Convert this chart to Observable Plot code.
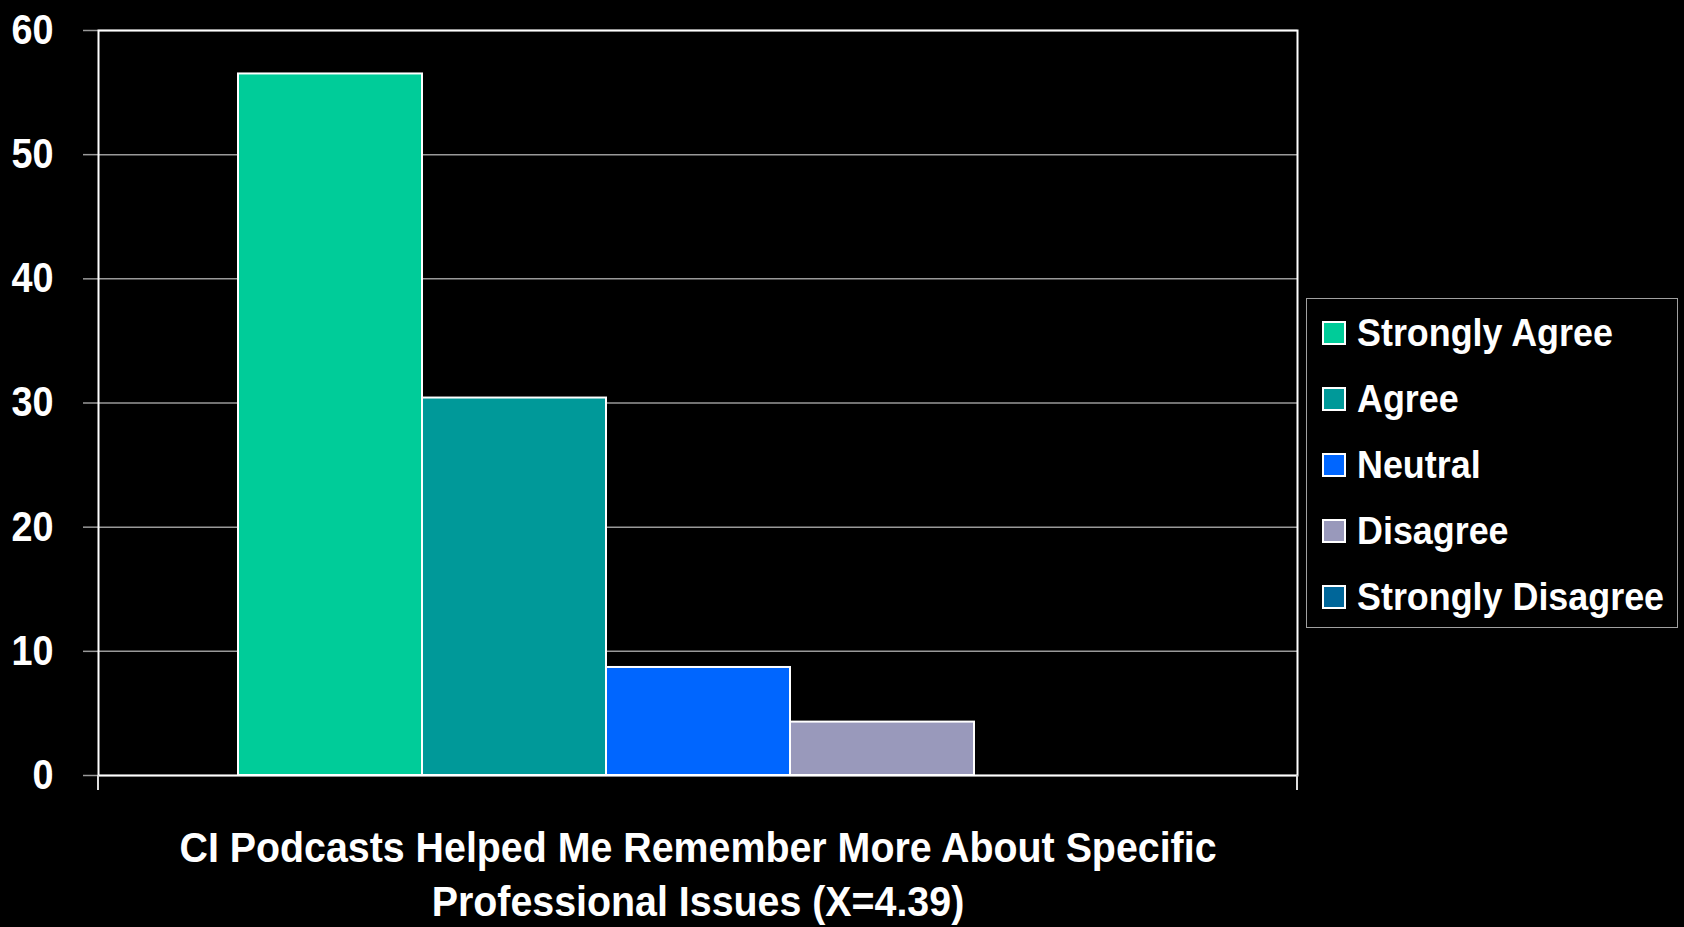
<!DOCTYPE html>
<html>
<head>
<meta charset="utf-8">
<script src="https://cdn.jsdelivr.net/npm/d3@7"></script>
<script src="https://cdn.jsdelivr.net/npm/@observablehq/plot@0.6"></script>
<style>
html, body { margin: 0; padding: 0; background: #000; width: 1684px; height: 927px; overflow: hidden; font-family: "Liberation Sans", Arial, sans-serif; }
#wrap { position: relative; width: 1684px; height: 927px; }
#chart { position: absolute; left: 0; top: 0; }
#legend { position: absolute; left: 1306px; top: 298px; width: 372px; height: 330px; border: 1.5px solid #a0a0a0; box-sizing: border-box; }
.row { position: absolute; left: 15px; height: 40px; display: flex; align-items: center; }
.sw { width: 24px; height: 24px; border: 2px solid #fff; box-sizing: border-box; flex: none; }
.lab { color: #fff; font-weight: bold; font-size: 39px; transform: scaleX(0.92); transform-origin: left center; margin-left: 11px; white-space: nowrap; line-height: 40px; }
#caption { position: absolute; left: 0; top: 820px; width: 1396px; text-align: center; color: #fff; font-weight: bold; font-size: 43px; line-height: 54px; transform: scaleX(0.915); transform-origin: 698px 0; white-space: nowrap; }
</style>
</head>
<body>
<div id="wrap">
  <div id="chart"></div>
  <div id="legend"></div>
  <div id="caption"></div>
</div>
<script>
const categories = ["Strongly Agree", "Agree", "Neutral", "Disagree", "Strongly Disagree"];
const percents = [56.5, 30.4, 8.7, 4.3, 0];
const colors = ["#00cc99", "#009999", "#0066ff", "#9999bb", "#006699"];
const yTicks = [0, 10, 20, 30, 40, 50, 60];
const captionLines = ["CI Podcasts Helped Me Remember More About Specific", "Professional Issues (X=4.39)"];

const data = categories.map((c, i) => ({category: c, value: percents[i]}));

const chart = Plot.plot({
  width: 1684,
  height: 800,
  marginTop: 30,
  marginBottom: 25,
  marginLeft: 98,
  marginRight: 387,
  style: {background: "#000", color: "#fff", fontFamily: "Liberation Sans, Arial, sans-serif", fontSize: "42px", fontWeight: "bold"},
  x: {domain: categories, paddingInner: 0, paddingOuter: 0.755, axis: null},
  y: {domain: [0, 60], ticks: yTicks, label: null},
  color: {domain: categories, range: colors},
  marks: [
    Plot.gridY(yTicks, {stroke: "#999", strokeOpacity: 1, strokeWidth: 1.5}),
    Plot.axisY(yTicks, {tickSize: 15, tickPadding: 30, stroke: "#999", strokeOpacity: 1, strokeWidth: 1.5, fill: "#fff", label: null, fontSize: 42, fontWeight: "bold"}),
    Plot.barY(data, {x: "category", y: "value", fill: "category", stroke: "#fff", strokeWidth: 2}),
    Plot.frame({stroke: "#fff", strokeWidth: 2})
  ]
});
document.getElementById("chart").appendChild(chart);

// horizontal condensing of y tick labels (anchor end keeps right alignment)
d3.select(chart).selectAll('g[aria-label="y-axis tick label"] text').each(function() {
  const t = this.getAttribute("transform");
  if (t) this.setAttribute("transform", t + " scale(0.9,1)");
});

// small category-axis ticks at both ends of the plot area
const xr = chart.scale("x").range;
const yr = chart.scale("y").range;
const y0 = Math.max(...yr);
d3.select(chart).append("g").selectAll("line").data(xr).join("line")
  .attr("x1", d => d).attr("x2", d => d)
  .attr("y1", y0).attr("y2", y0 + 15)
  .attr("stroke", "#ddd").attr("stroke-width", 2);

// legend
const legend = d3.select("#legend");
categories.forEach((c, i) => {
  const row = legend.append("div").attr("class", "row").style("top", (13.5 + i * 66) + "px");
  row.append("div").attr("class", "sw").style("background", colors[i]);
  row.append("div").attr("class", "lab").text(c);
});

// caption
const cap = d3.select("#caption");
captionLines.forEach(l => cap.append("div").text(l));
</script>
</body>
</html>
